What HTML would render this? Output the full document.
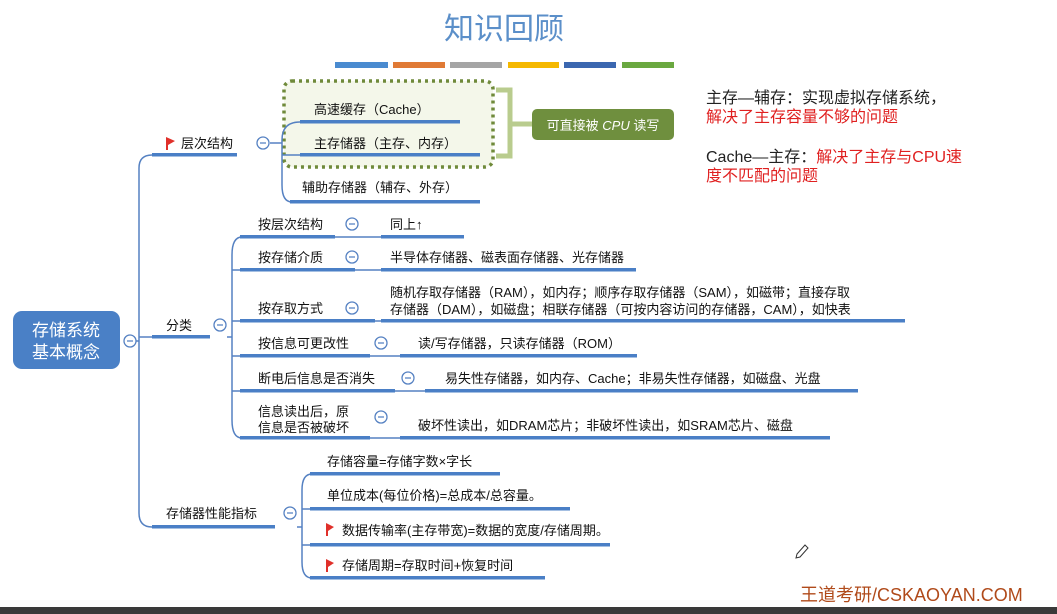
<!DOCTYPE html>
<html><head><meta charset="utf-8"><style>
html,body{margin:0;padding:0;background:#fff;}
svg{display:block;}
text{font-family:"Liberation Sans","Noto Sans CJK SC",sans-serif;}
</style></head><body>
<svg width="1057" height="614" viewBox="0 0 1057 614" xmlns="http://www.w3.org/2000/svg">
<rect width="1057" height="614" fill="#fff"/>
<text x="504" y="39" font-size="30" fill="#5b8fc9" text-anchor="middle">知识回顾</text>
<g>
<rect x="335" y="62" width="53" height="6" fill="#4a8bd0"/>
<rect x="393" y="62" width="52" height="6" fill="#e07a35"/>
<rect x="450" y="62" width="52" height="6" fill="#a5a5a5"/>
<rect x="508" y="62" width="51" height="6" fill="#f5b800"/>
<rect x="564" y="62" width="52" height="6" fill="#3b67b0"/>
<rect x="622" y="62" width="52" height="6" fill="#6aa840"/>
</g>
<rect x="284" y="81" width="209" height="86" rx="8" fill="#f4f7ea" stroke="#6f8a3a" stroke-width="3.5" stroke-dasharray="3,4"/>
<path d="M496 90 H510 V156 H496 M510 124 H532" fill="none" stroke="#b9cc8e" stroke-width="5"/>
<rect x="532" y="109" width="142" height="31" rx="5" fill="#6f8f3e"/>
<text x="603" y="130" font-size="13" fill="#fff" text-anchor="middle">可直接被 <tspan font-style="italic">CPU</tspan> 读写</text>

<g fill="none" stroke="#5581c2" stroke-width="1.5">
<path d="M130 341 H139 M152 155 Q139 155 139 168 V513 Q139 527 152 527"/>
<path d="M139 337 H152"/>
<path d="M270 143 H282"/>
<path d="M300 122 Q282 122 282 140 V185 Q282 202 292 202"/>
<path d="M282 155 H300"/>
<path d="M227 337 H232"/>
<path d="M242 237 Q232 237 232 255 V420 Q232 438 242 438"/>
<path d="M232 270 H242 M232 321 H242 M232 356 H242 M232 391 H242"/>
<path d="M335 237 H381 M355 270 H381 M375 321 H381 M370 356 H400 M395 391 H425 M370 438 H400"/>
<path d="M297 527 H302"/>
<path d="M312 474 Q302 474 302 490 V562 Q302 578 312 578"/>
<path d="M302 509 H312 M302 545 H312"/>
</g>
<g fill="#4a7fc6">
<rect x="152" y="153" width="85" height="3.5"/>
<rect x="300" y="120" width="160" height="3.5"/>
<rect x="300" y="153" width="180" height="3.5"/>
<rect x="290" y="200" width="190" height="3.5"/>
<rect x="152" y="335" width="58" height="3.5"/>
<rect x="240" y="235" width="95" height="3.5"/>
<rect x="381" y="235" width="83" height="3.5"/>
<rect x="240" y="268" width="115" height="3.5"/>
<rect x="381" y="268" width="255" height="3.5"/>
<rect x="240" y="319" width="135" height="3.5"/>
<rect x="381" y="319" width="524" height="3.5"/>
<rect x="240" y="354" width="130" height="3.5"/>
<rect x="400" y="354" width="237" height="3.5"/>
<rect x="240" y="389" width="155" height="3.5"/>
<rect x="425" y="389" width="433" height="3.5"/>
<rect x="240" y="436" width="130" height="3.5"/>
<rect x="400" y="436" width="430" height="3.5"/>
<rect x="152" y="525" width="123" height="3.5"/>
<rect x="310" y="472" width="190" height="3.5"/>
<rect x="310" y="507" width="260" height="3.5"/>
<rect x="310" y="543" width="300" height="3.5"/>
<rect x="310" y="576" width="235" height="3.5"/>
</g>
<g fill="#fff" stroke="#5581c2" stroke-width="1.3">
<circle cx="130" cy="341" r="6"/><circle cx="263" cy="143" r="6"/><circle cx="220" cy="325" r="6"/>
<circle cx="352" cy="224" r="6"/><circle cx="352" cy="257" r="6"/><circle cx="352" cy="308" r="6"/>
<circle cx="381" cy="343" r="6"/><circle cx="408" cy="378" r="6"/><circle cx="381" cy="417" r="6"/>
<circle cx="290" cy="513" r="6"/>
</g>
<g stroke="#5581c2" stroke-width="1.3">
<path d="M127 341h6M260 143h6M217 325h6M349 224h6M349 257h6M349 308h6M378 343h6M405 378h6M378 417h6M287 513h6"/>
</g>
<rect x="13" y="311" width="107" height="58" rx="9" fill="#4a80c6"/>
<text x="66" y="336" font-size="17" fill="#fff" text-anchor="middle">存储系统</text>
<text x="66" y="358" font-size="17" fill="#fff" text-anchor="middle">基本概念</text>
<g fill="#e0302a">
<path d="M166 137 L175 141 L168 145 V150 H166 Z"/>
<path d="M326 523 L334 527 L328 531 V536 H326 Z"/>
<path d="M326 559 L334 563 L328 567 V572 H326 Z"/>
</g>
<g font-size="13" fill="#111">
<text x="181" y="148">层次结构</text>
<text x="314" y="114">高速缓存（Cache）</text>
<text x="314" y="148">主存储器（主存、内存）</text>
<text x="302" y="192">辅助存储器（辅存、外存）</text>
<text x="166" y="330">分类</text>
<text x="258" y="229">按层次结构</text>
<text x="390" y="229">同上↑</text>
<text x="258" y="262">按存储介质</text>
<text x="390" y="262">半导体存储器、磁表面存储器、光存储器</text>
<text x="258" y="313">按存取方式</text>
<text x="390" y="297">随机存取存储器（RAM），如内存；顺序存取存储器（SAM），如磁带；直接存取</text>
<text x="390" y="314">存储器（DAM），如磁盘；相联存储器（可按内容访问的存储器，CAM），如快表</text>
<text x="258" y="348">按信息可更改性</text>
<text x="418" y="348">读/写存储器，只读存储器（ROM）</text>
<text x="258" y="383">断电后信息是否消失</text>
<text x="445" y="383">易失性存储器，如内存、Cache；非易失性存储器，如磁盘、光盘</text>
<text x="258" y="416">信息读出后，原</text>
<text x="258" y="432">信息是否被破坏</text>
<text x="418" y="430">破坏性读出，如DRAM芯片；非破坏性读出，如SRAM芯片、磁盘</text>
<text x="166" y="518">存储器性能指标</text>
<text x="327" y="466">存储容量=存储字数×字长</text>
<text x="327" y="500">单位成本(每位价格)=总成本/总容量。</text>
<text x="342" y="535">数据传输率(主存带宽)=数据的宽度/存储周期。</text>
<text x="342" y="570">存储周期=存取时间+恢复时间</text>
</g>
<g font-size="16">
<text x="706" y="103" fill="#222">主存—辅存：实现虚拟存储系统，</text>
<text x="706" y="122" fill="#e02020">解决了主存容量不够的问题</text>
<text x="706" y="162" fill="#222">Cache—主存：<tspan fill="#e02020">解决了主存与CPU速</tspan></text>
<text x="706" y="181" fill="#e02020">度不匹配的问题</text>
</g>
<path d="M797 554 L805 545 L808 548 L800 557 L796 558 Z" fill="none" stroke="#333" stroke-width="1"/>
<text x="800" y="601" font-size="18" fill="#b04a1a">王道考研/CSKAOYAN.COM</text>
<rect x="0" y="607" width="1057" height="7" fill="#3a3a3a"/>
</svg>
</body></html>
